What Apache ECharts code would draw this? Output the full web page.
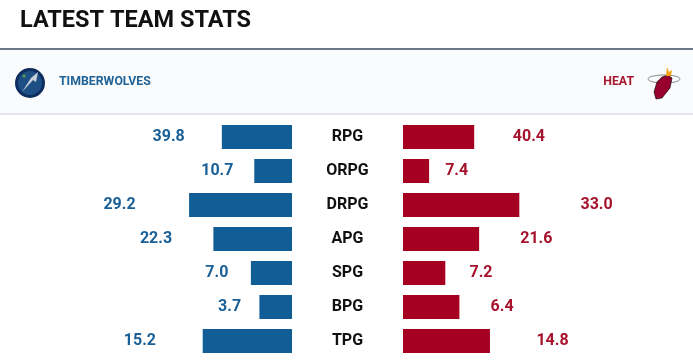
<!DOCTYPE html>
<html>
<head>
<meta charset="utf-8">
<script src="https://cdn.jsdelivr.net/npm/echarts@6/dist/echarts.min.js"></script>
<style>html,body{margin:0;padding:0;background:#fff}#c{width:693px;height:360px}</style>
</head>
<body>
<div id="c"></div>
<script>
const categories = ['RPG', 'ORPG', 'DRPG', 'APG', 'SPG', 'BPG', 'TPG'];
const wolvesValues = [39.8, 10.7, 29.2, 22.3, 7.0, 3.7, 15.2];
const heatValues = [40.4, 7.4, 33.0, 21.6, 7.2, 6.4, 14.8];
const rowScaleMax = [80, 40, 40, 40, 24, 16, 24];
const teamNames = ['TIMBERWOLVES', 'HEAT'];
const titleText = 'LATEST TEAM STATS';

const BLUE = '#115e96';
const RED = '#a50022';
const FONT = 'Roboto, "Noto Sans", sans-serif';

const norm = (arr) => arr.map((v, i) => v / rowScaleMax[i]);
const labelPos = (arr) => arr.map((v, i) => 1.5 * v / rowScaleMax[i]);

const chart = echarts.init(document.getElementById('c'), null, { renderer: 'canvas' });

const gridTop = 120, gridBottom = 2;
const option = {
  animation: false,
  backgroundColor: '#ffffff',
  graphic: [
    { type: 'rect', shape: { x: 0, y: 50, width: 693, height: 64 }, style: { fill: '#fafbfc' }, z: -10 },
    { type: 'rect', shape: { x: 0, y: 48, width: 693, height: 2 }, style: { fill: '#6b7785' } },
    { type: 'rect', shape: { x: 0, y: 113.5, width: 693, height: 1 }, style: { fill: '#c9d1da' } },
    { type: 'text', x: 20, y: 21.5, style: { text: titleText, font: 'bold 23.5px ' + FONT, fill: '#111111', verticalAlign: 'middle' } },
    { type: 'text', x: 59, y: 82, style: { text: teamNames[0], font: 'bold 12.3px ' + FONT, fill: '#1f6398', verticalAlign: 'middle' } },
    { type: 'text', x: 634, y: 82, style: { text: teamNames[1], font: 'bold 12.3px ' + FONT, fill: '#a6192e', verticalAlign: 'middle', align: 'right' } },
    // Timberwolves logo (simplified)
    { type: 'circle', shape: { cx: 30, cy: 83, r: 15 }, style: { fill: '#0c2d5e' } },
    { type: 'circle', shape: { cx: 30, cy: 83, r: 12 }, style: { fill: '#1d4f85' } },
    { type: 'polygon', shape: { points: [[22, 92], [31, 78], [38, 72], [36, 82], [33, 80]] }, style: { fill: '#c8d0d8' } },
    { type: 'circle', shape: { cx: 24, cy: 76, r: 1.5 }, style: { fill: '#5aa34a' } },
    // Heat logo (simplified)
    { type: 'ellipse', shape: { cx: 664, cy: 79, rx: 16, ry: 4 }, style: { fill: 'none', stroke: '#888', lineWidth: 1 } },
    { type: 'polygon', shape: { points: [[668, 75], [672, 78], [670, 88], [662, 98], [656, 99], [654, 92], [657, 82], [662, 77]] }, style: { fill: '#98002e', stroke: '#000', lineWidth: 0.6 } },
    { type: 'polygon', shape: { points: [[666, 76], [667, 67], [669, 72], [672, 70], [671, 76]] }, style: { fill: '#f9a01b' } }
  ],
  grid: [
    { left: 10, right: 401, top: gridTop, bottom: gridBottom },
    { left: 403, right: 8, top: gridTop, bottom: gridBottom }
  ],
  xAxis: [
    { gridIndex: 0, type: 'value', min: 0, max: 2, inverse: true, show: false },
    { gridIndex: 1, type: 'value', min: 0, max: 2, show: false }
  ],
  yAxis: [
    { gridIndex: 0, type: 'category', data: categories, inverse: true, axisLine: { show: false }, axisTick: { show: false }, axisLabel: { show: false }, splitLine: { show: false } },
    { gridIndex: 1, type: 'category', data: categories, inverse: true, axisLine: { show: false }, axisTick: { show: false }, splitLine: { show: false },
      axisLabel: { show: true, align: 'center', margin: 55.5, fontFamily: FONT, fontWeight: 'bold', fontSize: 16, color: '#111111' } }
  ],
  series: [
    { type: 'bar', xAxisIndex: 0, yAxisIndex: 0, data: norm(wolvesValues), barWidth: 24, itemStyle: { color: BLUE }, barGap: '-100%', silent: true },
    { type: 'bar', xAxisIndex: 0, yAxisIndex: 0, data: labelPos(wolvesValues), barWidth: 24, barGap: '-100%', silent: true,
      itemStyle: { color: 'rgba(0,0,0,0)' },
      label: { show: true, position: 'left', distance: 2, fontFamily: FONT, fontWeight: 'bold', fontSize: 16, color: '#1a6098',
        formatter: (p) => wolvesValues[p.dataIndex].toFixed(1) } },
    { type: 'bar', xAxisIndex: 1, yAxisIndex: 1, data: norm(heatValues), barWidth: 24, itemStyle: { color: RED }, barGap: '-100%', silent: true },
    { type: 'bar', xAxisIndex: 1, yAxisIndex: 1, data: labelPos(heatValues), barWidth: 24, barGap: '-100%', silent: true,
      itemStyle: { color: 'rgba(0,0,0,0)' },
      label: { show: true, position: 'right', distance: 3, fontFamily: FONT, fontWeight: 'bold', fontSize: 16, color: '#a6122c',
        formatter: (p) => heatValues[p.dataIndex].toFixed(1) } }
  ]
};
chart.setOption(option);
</script>
</body>
</html>
